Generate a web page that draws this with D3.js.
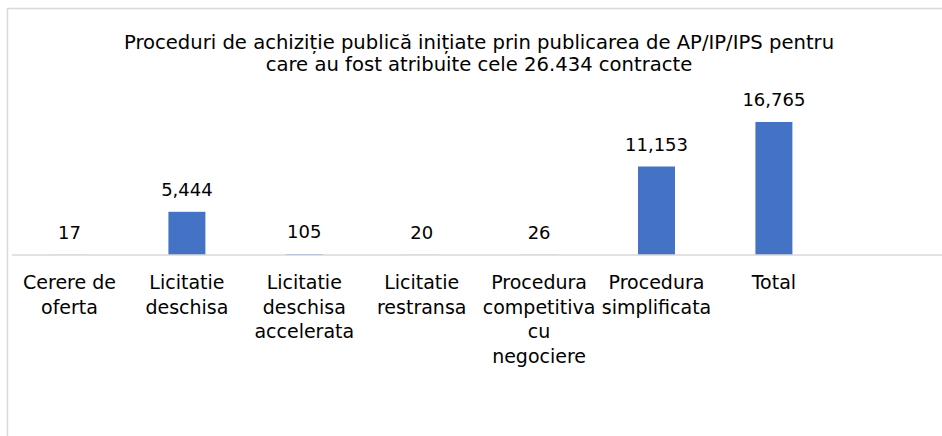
<!DOCTYPE html>
<html>
<head>
<meta charset="utf-8">
<script src="https://cdn.jsdelivr.net/npm/d3@7"></script>
<style>
  html, body { margin: 0; padding: 0; background: #fff; }
  svg { display: block; }
</style>
</head>
<body>
<svg id="chart" width="942" height="436"></svg>
<script>
// ---- Data ----
const categories = [
  "Cerere de oferta",
  "Licitatie deschisa",
  "Licitatie deschisa accelerata",
  "Licitatie restransa",
  "Procedura competitiva cu negociere",
  "Procedura simplificata",
  "Total"
];
const categoryLines = [
  ["Cerere de", "oferta"],
  ["Licitatie", "deschisa"],
  ["Licitatie", "deschisa", "accelerata"],
  ["Licitatie", "restransa"],
  ["Procedura", "competitiva", "cu", "negociere"],
  ["Procedura", "simplificata"],
  ["Total"]
];
const values = [17, 5444, 105, 20, 26, 11153, 16765];
const titleLines = [
  "Proceduri de achiziție publică inițiate prin publicarea de AP/IP/IPS pentru",
  "care au fost atribuite cele 26.434 contracte"
];

// ---- Layout ----
const W = 942, H = 436;
const svg = d3.select("#chart");
const FONT = "'DejaVu Sans', sans-serif";
const baseY = 255;

// chart border
svg.append("rect")
  .attr("x", 7.5).attr("y", 8.5)
  .attr("width", W + 20).attr("height", H + 20)
  .attr("fill", "none")
  .attr("stroke", "#d9d9d9")
  .attr("stroke-width", 1.5);

// title
svg.append("text")
  .attr("x", 479).attr("y", 49)
  .attr("text-anchor", "middle")
  .attr("font-family", FONT)
  .attr("font-size", 19.6)
  .attr("fill", "#000")
  .selectAll("tspan")
  .data(titleLines)
  .join("tspan")
  .attr("x", 479)
  .attr("dy", (d, i) => i === 0 ? 0 : 21.5)
  .text(d => d);

// scales
const x = d3.scaleBand()
  .domain(categories)
  .range([10.8, 832.6])
  .paddingInner(0.685)
  .paddingOuter(0.3425);

const y = d3.scaleLinear()
  .domain([0, 20000])
  .range([baseY, 96.3]);

// bars
svg.append("g")
  .selectAll("rect")
  .data(values)
  .join("rect")
  .attr("x", (d, i) => x(categories[i]))
  .attr("width", x.bandwidth())
  .attr("y", d => y(d))
  .attr("height", d => baseY - y(d))
  .attr("fill", "#4472C4");

// axis line
const xAxis = d3.axisBottom(x).tickSize(0).tickFormat("");
const axisG = svg.append("g").attr("transform", `translate(0,${baseY})`).call(xAxis);
axisG.select(".domain")
  .attr("d", `M12,0H${W}`)
  .attr("stroke", "#d9d9d9")
  .attr("stroke-width", 1.5);

// value labels
const fmt = d3.format(",");
svg.append("g")
  .selectAll("text")
  .data(values)
  .join("text")
  .attr("x", (d, i) => x(categories[i]) + x.bandwidth() / 2)
  .attr("y", d => y(d) - 16)
  .attr("text-anchor", "middle")
  .attr("font-family", FONT)
  .attr("font-size", 18)
  .attr("fill", "#000")
  .text(d => fmt(d));

// category labels
const labG = svg.append("g");
categories.forEach((c, i) => {
  const cx = x(c) + x.bandwidth() / 2;
  const t = labG.append("text")
    .attr("text-anchor", "middle")
    .attr("font-family", FONT)
    .attr("font-size", 19)
    .attr("fill", "#000");
  categoryLines[i].forEach((ln, j) => {
    t.append("tspan")
      .attr("x", cx)
      .attr("y", 289 + j * 24.5)
      .text(ln);
  });
});
</script>
</body>
</html>
